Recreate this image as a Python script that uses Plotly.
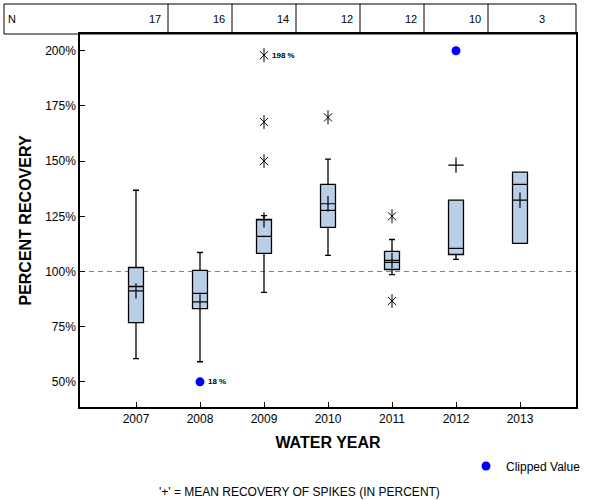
import plotly.graph_objects as go

# ---- data ----
years = [2007, 2008, 2009, 2010, 2011, 2012, 2013]
n_counts = [17, 16, 14, 12, 12, 10, 3]
lower_whisker = [60.5, 59.1, 90.5, 107.3, 98.6, 105.5, 112.7]
q1 = [76.8, 83.2, 108.2, 120.0, 100.9, 107.7, 112.7]
median = [93.2, 90.1, 115.9, 127.7, 104.1, 110.5, 139.5]
q3 = [101.8, 100.5, 123.6, 139.5, 109.1, 132.3, 145.0]
upper_whisker = [136.8, 108.6, 125.3, 150.9, 114.5, 132.3, 145.0]
mean_vals = [91.2, 86.2, 123.4, 130.7, 105.0, 148.2, 132.3]

outlier_years = [2009, 2009, 2009, 2010, 2011, 2011]
outlier_vals = [198.0, 167.7, 150.0, 169.8, 125.0, 86.6]
outlier_labels = ["198 %", "", "", "", "", ""]

clip_years = [2008, 2012]
clip_vals = [50.0, 200.0]
clip_labels = ["18 %", ""]

ref_value = 100
y_ticks = [50, 75, 100, 125, 150, 175, 200]
y_ticktext = ["50%", "75%", "100%", "125%", "150%", "175%", "200%"]

FONT = "Liberation Sans, Arial, sans-serif"

fig = go.Figure()

fig.add_trace(go.Box(
    x=years, q1=q1, median=median, q3=q3,
    lowerfence=lower_whisker, upperfence=upper_whisker,
    boxpoints=False, width=0.234, whiskerwidth=0.4,
    fillcolor="#b9cfe7", line=dict(color="black", width=1.3),
    showlegend=False, hoverinfo="skip",
))

fig.add_trace(go.Scatter(
    x=years, y=mean_vals, mode="markers",
    marker=dict(symbol="cross-thin-open", size=11, color="black", line=dict(color="black", width=1.2)),
    showlegend=False, hoverinfo="skip",
))

# outliers: 6-arm asterisk (x + vertical)
fig.add_trace(go.Scatter(
    x=outlier_years, y=outlier_vals, mode="markers",
    marker=dict(symbol="x-thin-open", size=8, color="black", line=dict(color="black", width=1)),
    showlegend=False, hoverinfo="skip",
))
fig.add_trace(go.Scatter(
    x=outlier_years, y=outlier_vals, mode="markers",
    marker=dict(symbol="line-ns-open", size=10, color="black", line=dict(color="black", width=1)),
    showlegend=False, hoverinfo="skip",
))

fig.add_trace(go.Scatter(
    x=clip_years, y=clip_vals, mode="markers", name="Clipped Value",
    marker=dict(symbol="circle", size=9, color="#0000ff"),
    showlegend=True, hoverinfo="skip", cliponaxis=False,
))

# labels beside outliers / clipped values
for xv, yv, t in list(zip(outlier_years, outlier_vals, outlier_labels)) + list(zip(clip_years, clip_vals, clip_labels)):
    if t:
        fig.add_annotation(x=xv, y=yv, text="<b>" + t + "</b>", showarrow=False,
                           xanchor="left", xshift=6, font=dict(size=8, family=FONT, color="black"))

# reference line
fig.add_shape(type="line", xref="paper", x0=0, x1=1, y0=ref_value, y1=ref_value, yref="y",
              line=dict(color="#808080", width=1, dash="5px,4px"), layer="below")

# N table at top
tbl_top = 1 + 30 / 373
tbl_mid = (1 + tbl_top) / 2
fig.add_shape(type="rect", xref="paper", yref="paper", x0=-76 / 496, x1=1, y0=1, y1=tbl_top,
              line=dict(color="black", width=1))
for yr in years[:-1]:
    fig.add_shape(type="line", xref="x", yref="paper", x0=yr + 0.5, x1=yr + 0.5, y0=1, y1=tbl_top,
                  line=dict(color="black", width=1))
fig.add_annotation(xref="paper", yref="paper", x=-74 / 496, y=tbl_mid, text="N",
                   showarrow=False, xanchor="left", yanchor="middle",
                   font=dict(size=11, family=FONT, color="black"))
for yr, n in zip(years, n_counts):
    fig.add_annotation(xref="x", yref="paper", x=yr + 0.5, y=tbl_mid, text=str(n),
                       showarrow=False, xanchor="right", yanchor="middle", xshift=-5,
                       font=dict(size=11, family=FONT, color="black"))

# footnote
fig.add_annotation(xref="paper", yref="paper", x=(299 - 80) / 496, y=(407 - 492) / 373,
                   text="'+' = MEAN RECOVERY OF SPIKES (IN PERCENT)", showarrow=False,
                   xanchor="center", yanchor="middle", font=dict(size=12, family=FONT, color="black"))

fig.update_layout(
    width=600, height=500,
    margin=dict(l=80, r=24, t=34, b=93, autoexpand=False),
    paper_bgcolor="white", plot_bgcolor="white",
    font=dict(family=FONT, size=12, color="black"),
    showlegend=True,
    legend=dict(xref="container", yref="container", x=466 / 600, y=(500 - 466) / 500,
                xanchor="left", yanchor="middle",
                font=dict(size=12, family=FONT), bgcolor="rgba(0,0,0,0)", borderwidth=0),
    xaxis=dict(
        range=[2006.125, 2013.875], tickmode="array", tickvals=years,
        ticktext=[str(y) for y in years], ticks="inside", ticklen=5, tickcolor="black",
        showline=True, linecolor="black", linewidth=1.5, mirror=True, showgrid=False,
        zeroline=False, tickfont=dict(size=12),
        title=dict(text="<b>WATER YEAR</b>", font=dict(size=16), standoff=12),
    ),
    yaxis=dict(
        range=[38.6, 207.6], tickmode="array", tickvals=y_ticks, ticktext=y_ticktext,
        ticks="inside", ticklen=5, tickcolor="black",
        showline=True, linecolor="black", linewidth=1.5, mirror=True, showgrid=False,
        zeroline=False, tickfont=dict(size=12),
        title=dict(text="<b>PERCENT RECOVERY</b>", font=dict(size=16), standoff=10),
    ),
)

fig.write_html("out.html", config={"displayModeBar": False},
               post_script="document.body.style.margin='0';")
